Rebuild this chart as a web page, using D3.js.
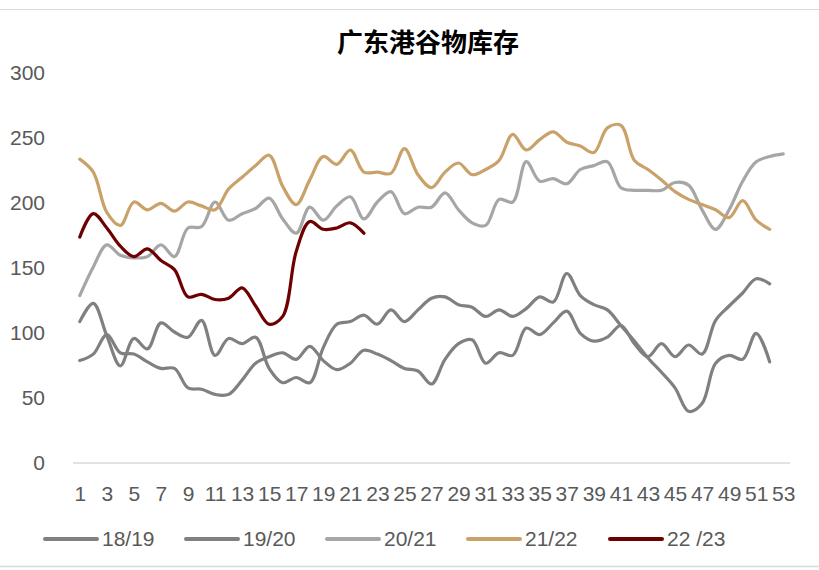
<!DOCTYPE html>
<html>
<head>
<meta charset="utf-8">
<script src="https://cdn.jsdelivr.net/npm/d3@7"></script>
<style>
  html, body { margin: 0; padding: 0; background: #fff; }
  svg { display: block; }
</style>
</head>
<body>
<svg id="chart" width="819" height="570"></svg>
<script>
// ---- data ----
const title = "广东港谷物库存";
const weeks = [1,2,3,4,5,6,7,8,9,10,11,12,13,14,15,16,17,18,19,20,21,22,23,24,25,26,27,28,29,30,31,32,33,34,35,36,37,38,39,40,41,42,43,44,45,46,47,48,49,50,51,52,53];
const xTickLabels = ["1","3","5","7","9","11","13","15","17","19","21","23","25","27","29","31","33","35","37","39","41","43","45","47","49","51","53"];
const yTicks = [0, 50, 100, 150, 200, 250, 300];
const seriesNames = ["18/19", "19/20", "20/21", "21/22", "22 /23"];
const s1819 = [108,122,97,74,95,87,107,100,96,109,82,95,91,96,72,61,65,61,88,106,108,113,106,117,108,117,126,127,121,119,112,117,112,118,127,123,145,128,121,117,105,93,80,69,57,39,45,76,82,79,99,77];
const s1920 = [78,83,98,84,83,77,72,72,57,56,52,52,63,76,81,84,79,89,78,71,76,86,83,78,72,70,60,79,91,94,76,84,82,103,98,107,116,99,93,96,105,91,81,91,81,90,83,109,120,130,141,137];
const s2021 = [128,150,167,159,157,158,167,158,180,181,200,186,191,195,203,187,176,196,186,197,204,187,200,208,191,196,196,207,194,184,182,202,200,231,216,218,214,225,228,231,211,209,209,209,215,213,194,179,194,216,231,235,237];
const s2122 = [233,223,192,182,200,194,199,193,200,197,194,210,219,228,236,212,198,217,235,229,240,223,223,222,241,221,211,223,230,221,225,232,252,240,248,254,246,243,238,257,259,232,225,217,208,202,198,194,188,201,186,179];
const s2223 = [173,191,180,166,158,164,155,148,127,129,125,126,134,120,106,112,162,185,179,180,184,176];
const seriesValues = [s1819, s1920, s2021, s2122, s2223];
const seriesColors = ["#808080", "#808080", "#a6a6a6", "#c9a26a", "#6e0000"];

// ---- layout ----
const svg = d3.select("#chart");
const W = 819, H = 570;
const plot = { left: 73, right: 790, top: 72, bottom: 462 };
const fontFamily = "'Liberation Sans', Arial, sans-serif";
const textColor = "#595959";

const x = d3.scaleLinear().domain([0.5, 53.5]).range([plot.left, plot.right]);
const y = d3.scaleLinear().domain([0, 300]).range([plot.bottom, plot.top]);

// frame lines
svg.append("line").attr("x1", 0).attr("x2", W).attr("y1", 9.5).attr("y2", 9.5)
  .attr("stroke", "#d9d9d9").attr("stroke-width", 1);
svg.append("line").attr("x1", 0).attr("x2", W).attr("y1", 566.5).attr("y2", 566.5)
  .attr("stroke", "#d9d9d9").attr("stroke-width", 1.5);

// title
svg.append("text")
  .attr("x", 428).attr("y", 40)
  .attr("text-anchor", "middle").attr("dominant-baseline", "central")
  .attr("font-family", "'Noto Sans CJK SC', sans-serif")
  .attr("font-weight", "bold").attr("font-size", 26).attr("fill", "#000")
  .text(title);

// y axis (labels only)
const yAxis = d3.axisLeft(y).tickValues(yTicks).tickSize(0).tickPadding(0);
const gy = svg.append("g").attr("transform", `translate(45,0)`).call(yAxis);
gy.select(".domain").remove();
gy.selectAll("text").attr("font-family", fontFamily).attr("font-size", 21)
  .attr("fill", textColor).attr("dy", "0.35em");

// x axis
const xAxis = d3.axisBottom(x)
  .tickValues(xTickLabels.map(Number))
  .tickFormat((d, i) => xTickLabels[i])
  .tickSize(0).tickPadding(0);
const gx = svg.append("g").attr("transform", `translate(0,${plot.bottom + 1})`).call(xAxis);
gx.select(".domain").attr("stroke", "#d9d9d9").attr("stroke-width", 1.5)
  .attr("d", `M${plot.left},0H${plot.right}`);
gx.selectAll("text").attr("font-family", fontFamily).attr("font-size", 21)
  .attr("fill", textColor).attr("dy", "0").attr("y", 38);

// lines
const line = d3.line()
  .x((d, i) => x(weeks[i]))
  .y(d => y(d))
  .curve(d3.curveCatmullRom.alpha(0.5));

svg.append("g").selectAll("path")
  .data(seriesValues)
  .join("path")
  .attr("d", d => line(d))
  .attr("fill", "none")
  .attr("stroke", (d, i) => seriesColors[i])
  .attr("stroke-width", 3.2)
  .attr("stroke-linejoin", "round")
  .attr("stroke-linecap", "round");

// legend
const legendX = [45, 186, 327, 468, 610];
const legend = svg.append("g");
seriesNames.forEach((name, i) => {
  const g = legend.append("g").attr("transform", `translate(${legendX[i]},539)`);
  g.append("line").attr("x1", 0).attr("x2", 52).attr("y1", 0).attr("y2", 0)
    .attr("stroke", seriesColors[i]).attr("stroke-width", 4).attr("stroke-linecap", "round");
  g.append("text").attr("x", 57).attr("y", 0).attr("dy", "0.35em")
    .attr("font-family", fontFamily).attr("font-size", 21).attr("fill", textColor)
    .text(name);
});
</script>
</body>
</html>
